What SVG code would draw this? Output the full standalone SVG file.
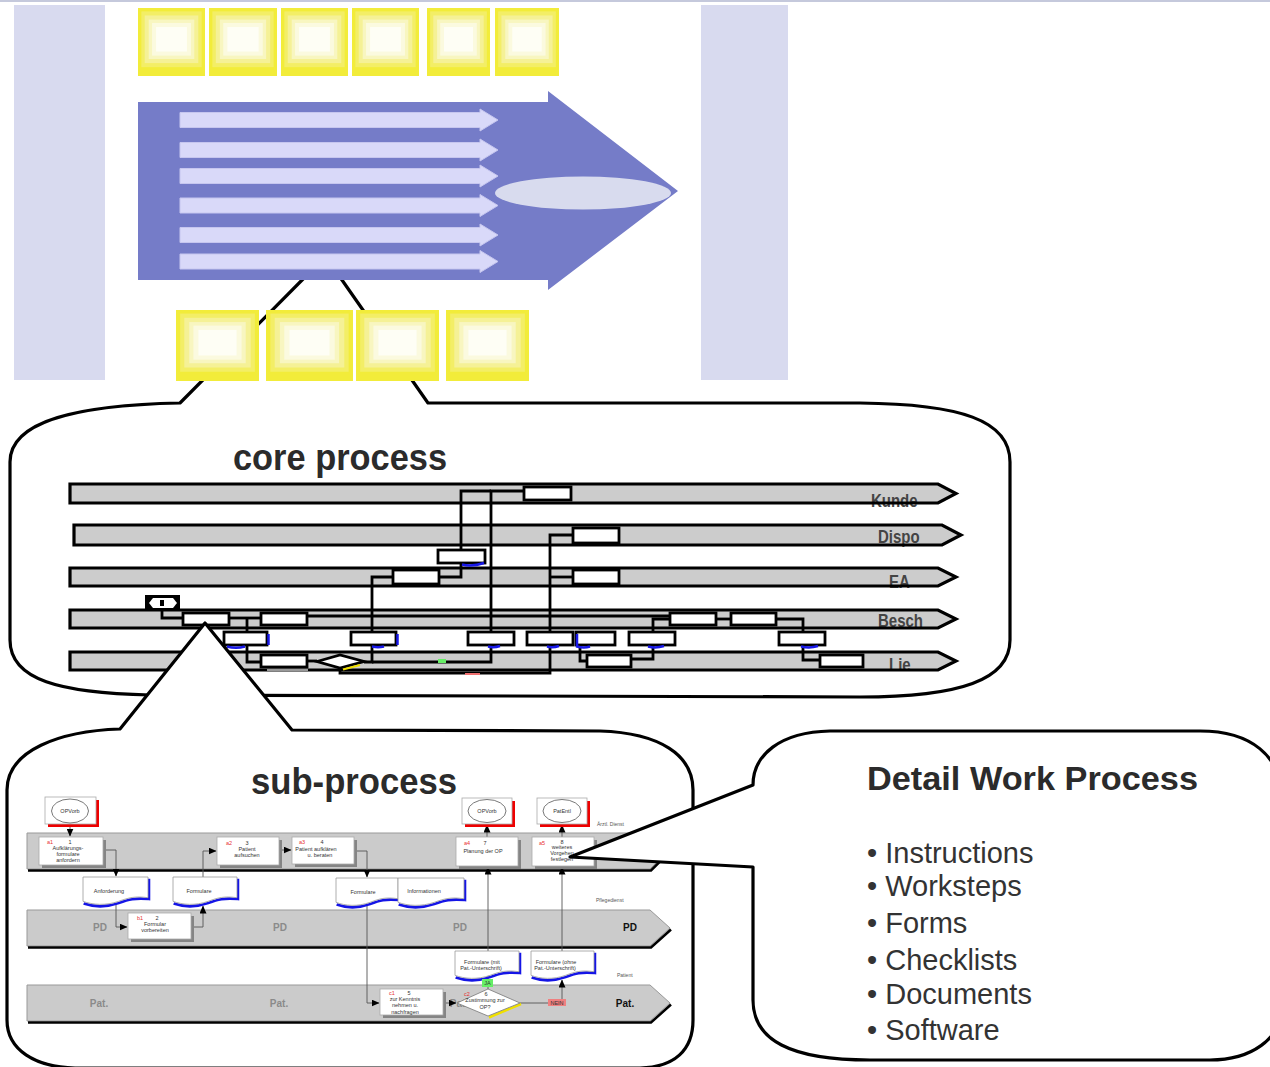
<svg xmlns="http://www.w3.org/2000/svg" xmlns:xlink="http://www.w3.org/1999/xlink" width="1270" height="1067" viewBox="0 0 1270 1067">
<defs>
<style>
.lav{fill:#d8daef}
.bub{fill:#fff;stroke:#000;stroke-width:3.2;stroke-linejoin:round}
.la{fill:#d9d9f9;stroke:#c6c6ef;stroke-width:1}
.cl{fill:#cccccc;stroke:none}
.cls{fill:none;stroke:#000;stroke-width:3.2;stroke-linejoin:miter}
.clab{font-family:"Liberation Sans",Arial,sans-serif;font-weight:bold;font-size:15px;fill:#444}
.cn{fill:#fff;stroke:#000;stroke-width:2.8}
.cc{fill:none;stroke:#000;stroke-width:2.8;stroke-linejoin:miter}
.blue{fill:none;stroke:#1818e8;stroke-width:2.5}
.title{font-family:"Liberation Sans",Arial,sans-serif;font-weight:bold;fill:#2b2b2b}
.sl{fill:#cbcbcb;stroke:#999;stroke-width:1}
.ssh{fill:none;stroke:#000;stroke-width:2.5}
.sb{fill:#fff;stroke:#aaa;stroke-width:0.8}
.shd{fill:#858585}
.st{font-family:"Liberation Sans",Arial,sans-serif;font-size:5.5px;fill:#333;text-anchor:middle}
.sid{fill:#e83030}
.sc{fill:none;stroke:#555;stroke-width:0.9}
.lpd{font-family:"Liberation Sans",Arial,sans-serif;font-weight:bold;font-size:10px;fill:#8a8a8a;text-anchor:middle}
.lpdk{fill:#111}
.small{font-family:"Liberation Sans",Arial,sans-serif;font-size:5px;fill:#555}
.bul{font-family:"Liberation Sans",Arial,sans-serif;font-size:29px;fill:#333}
.docO{fill:#fff;stroke:#999;stroke-width:0.8}
.docB{fill:none;stroke:#1515e6;stroke-width:2.6}
</style>
<symbol id="yb" viewBox="0 0 100 100" preserveAspectRatio="none">
<rect width="100" height="100" fill="#f2ec3a"/>
<rect x="5" y="5" width="90" height="82" fill="#f3ee66"/>
<rect x="10" y="11" width="80" height="70" fill="#f5f196"/>
<rect x="16" y="17" width="68" height="58" fill="#f8f6c0"/>
<rect x="21" y="22" width="58" height="48" fill="#fbfadf"/>
<rect x="27" y="28" width="46" height="36" fill="#fefef5"/>
</symbol>
<path id="docOut" d="M0,0 H100 V23 C80,21 70,23 55,27 C35,32 15,31 0,27 Z" vector-effect="non-scaling-stroke"/>
<path id="docSh" d="M101.5,2 V24.5 C80,23 70,25 55,29 C35,34 15,33 1,29.5" vector-effect="non-scaling-stroke"/>
<marker id="ah" markerWidth="8" markerHeight="7" refX="7.5" refY="3.5" orient="auto" markerUnits="userSpaceOnUse">
<path d="M0,0 L8,3.5 L0,7 Z" fill="#000"/>
</marker>
</defs>

<rect x="0" y="0" width="1270" height="2" fill="#c5c9dc"/>
<rect class="lav" x="14" y="5" width="91" height="375"/>
<rect class="lav" x="701" y="5" width="87" height="375"/>

<g id="core-bubble">
<path class="bub" d="M180,403 L312,270 L335,270 L428,403 L860,403 C960,404 1010,420 1010,462 L1010,640 C1010,680 960,697 860,697 L150,695 C60,693 10,680 10,640 L10,462 C10,420 80,405 180,403 Z"/>
</g>

<g id="value-chain">
<polygon points="138,102 548,102 548,91 678,191 548,290 548,280 138,280" fill="#757cc8"/>
<polygon class="la" points="180,112.5 480,112.5 480,109 498,120 480,131 480,127.5 180,127.5"/>
<polygon class="la" points="180,142.5 480,142.5 480,139 498,150 480,161 480,157.5 180,157.5"/>
<polygon class="la" points="180,168.5 480,168.5 480,165 498,176 480,187 480,183.5 180,183.5"/>
<polygon class="la" points="180,198 480,198 480,194.5 498,205.5 480,216.5 480,213 180,213"/>
<polygon class="la" points="180,227.5 480,227.5 480,224 498,235 480,246 480,242.5 180,242.5"/>
<polygon class="la" points="180,254 480,254 480,250.5 498,261.5 480,272.5 480,269 180,269"/>
<ellipse cx="583" cy="193" rx="88" ry="16.5" fill="#d8dbee"/>
</g>
<g id="top-boxes">
<use xlink:href="#yb" x="138" y="8" width="67" height="68"/>
<use xlink:href="#yb" x="209" y="8" width="68" height="68"/>
<use xlink:href="#yb" x="281" y="8" width="67" height="68"/>
<use xlink:href="#yb" x="352" y="8" width="67" height="68"/>
<use xlink:href="#yb" x="427" y="8" width="63" height="68"/>
<use xlink:href="#yb" x="495" y="8" width="64" height="68"/>
</g>
<g id="bottom-boxes">
<use xlink:href="#yb" x="176" y="310" width="83" height="71"/>
<use xlink:href="#yb" x="266" y="310" width="87" height="71"/>
<use xlink:href="#yb" x="356" y="310" width="83" height="71"/>
<use xlink:href="#yb" x="446" y="310" width="83" height="71"/>
</g>

<text class="title" x="233" y="470" font-size="36" textLength="214" lengthAdjust="spacingAndGlyphs">core process</text>
<g id="core-lanes">
<polygon class="cl" points="70,484 938,484 956,493.5 938,503 70,503"/>
<polygon class="cl" points="74,525 942,525 961,535 942,545 74,545"/>
<polygon class="cl" points="70,568 938,568 956,577 938,586 70,586"/>
<polygon class="cl" points="70,610 938,610 956,619 938,628 70,628"/>
<polygon class="cl" points="70,652 938,652 956,661 938,670 70,670"/>
<g transform="translate(0,-100) scale(1,1.2)">
<text class="clab" x="871" y="505.5">Kunde</text>
</g>
<g transform="translate(0,-107.5) scale(1,1.2)">
<text class="clab" x="878" y="542">Dispo</text>
</g>
<g transform="translate(0,-116) scale(1,1.2)">
<text class="clab" x="889" y="586.5">EA</text>
</g>
<g transform="translate(0,-124) scale(1,1.2)">
<text class="clab" x="878" y="626">Besch</text>
</g>
<g transform="translate(0,-133) scale(1,1.2)">
<text class="clab" x="889" y="670">Lie</text>
</g>
<polygon class="cls" points="70,484 938,484 956,493.5 938,503 70,503"/>
<polygon class="cls" points="74,525 942,525 961,535 942,545 74,545"/>
<polygon class="cls" points="70,568 938,568 956,577 938,586 70,586"/>
<polygon class="cls" points="70,610 938,610 956,619 938,628 70,628"/>
<polygon class="cls" points="70,652 938,652 956,661 938,670 70,670"/>
</g>
<g id="core-connectors">
<path class="cc" d="M162,610 V618 H183"/>
<path class="cc" d="M229,618 H261"/>
<path class="cc" d="M247,618 V632"/>
<path class="cc" d="M247,645 V662 H261"/>
<path class="cc" d="M307,661 H317"/>
<path class="cc" d="M364,662 H372 V577 H393"/>
<path class="cc" d="M372,662 H491 V491 H524"/>
<path class="cc" d="M439,577 H461 V563"/>
<path class="cc" d="M461,550 V491 H491"/>
<path class="cc" d="M573,535 H550 V673 H340 V668"/>
<path class="cc" d="M573,577 H550"/>
<path class="cc" d="M307,616 H670"/>
<path class="cc" d="M580,645 V661 H587"/>
<path class="cc" d="M631,659 H653 V645"/>
<path class="cc" d="M653,632 V619 H670"/>
<path class="cc" d="M716,619 H731"/>
<path class="cc" d="M776,619 H803 V632"/>
<path class="cc" d="M803,645 V660 H820"/>
<rect x="438" y="659" width="8" height="4" fill="#66ee66"/>
<rect x="465" y="673" width="15" height="2" fill="#f07070"/>
</g>
<g id="core-nodes">
<g id="c-kunde"><rect class="cn" x="524" y="487" width="47" height="13"/></g>
<g id="c-dispo"><rect class="cn" x="573" y="528" width="46" height="15"/></g>
<g id="c-doc-de"><rect class="cn" x="438" y="550" width="47" height="13"/><path class="blue" d="M462,564.5 Q472,567 484,563"/></g>
<g id="c-ea1"><rect class="cn" x="393" y="570" width="46" height="14"/></g>
<g id="c-ea2"><rect class="cn" x="573" y="570" width="46" height="14"/></g>
<g id="c-start"><rect x="145" y="595" width="35" height="15" fill="#000"/><polygon points="149,603 153,598 173,598 177,603 173,608 153,608" fill="#fff"/><rect x="160" y="600" width="4" height="6" fill="#000"/></g>
<g id="c-b1"><rect class="cn" x="183" y="613" width="46" height="12"/></g>
<g id="c-b2"><rect class="cn" x="261" y="613" width="46" height="12"/></g>
<g id="c-b3"><rect class="cn" x="670" y="613" width="46" height="12"/></g>
<g id="c-b4"><rect class="cn" x="731" y="613" width="45" height="12"/></g>
<g id="c-d1"><rect class="cn" x="224" y="632" width="43" height="13"/><path class="blue" d="M268.5,634 V645 M227,646.5 Q236,649 245,646.5"/></g>
<g id="c-d2"><rect class="cn" x="351" y="632" width="45" height="13"/><path class="blue" d="M397.5,634 V645 M372,646.5 Q378,648 384,646.5"/></g>
<g id="c-d3"><rect class="cn" x="468" y="632" width="46" height="13"/><path class="blue" d="M488,646.5 Q494,648 500,646"/></g>
<g id="c-d4"><rect class="cn" x="527" y="632" width="46" height="13"/><path class="blue" d="M547,646.5 Q553,648 559,646"/></g>
<g id="c-d5"><rect class="cn" x="576" y="632" width="39" height="13"/><path class="blue" d="M577,634 V646.5 Q584,648.5 590,646.5"/></g>
<g id="c-d6"><rect class="cn" x="629" y="632" width="46" height="13"/><path class="blue" d="M648,646.5 Q656,648.5 664,646"/></g>
<g id="c-d7"><rect class="cn" x="779" y="632" width="46" height="13"/><path class="blue" d="M801,646.5 Q810,648.5 818,646"/></g>
<g id="c-l1"><rect class="cn" x="261" y="655" width="46" height="12"/><rect x="267" y="669" width="41" height="2" fill="#999"/></g>
<g id="c-dia"><polygon class="cn" points="317,661.5 340,655 364,661.5 340,668"/><path d="M343,669.5 L360,665" stroke="#f0e000" stroke-width="2"/></g>
<g id="c-l2"><rect class="cn" x="587" y="655" width="44" height="12"/></g>
<g id="c-l3"><rect class="cn" x="820" y="655" width="43" height="12"/></g>
</g>

<g id="sub-bubble">
<path class="bub" d="M120,729 L205,623 L292,730 L600,731 C660,733 693,755 693,790 L693,1020 C693,1050 675,1067 640,1068 L75,1068 C35,1067 7,1050 7,1020 L7,790 C7,750 60,731 120,729 Z"/>
</g>
<text class="title" x="251" y="794" font-size="37" textLength="206" lengthAdjust="spacingAndGlyphs">sub-process</text>

<g id="sub-lanes">
<polygon class="sl" points="27,833 650,833 668,851 650,869 27,869"/>
<polyline class="ssh" points="28,870.5 651,870.5 669,852.5"/>
<polygon class="sl" points="27,910 650,910 670,928 650,946 27,946"/>
<polyline class="ssh" points="28,947.5 651,947.5 671,929.5"/>
<polygon class="sl" points="27,985 650,985 670,1003 650,1021 27,1021"/>
<polyline class="ssh" points="28,1022.5 651,1022.5 671,1004.5"/>
<text class="lpd" x="100" y="931">PD</text>
<text class="lpd" x="280" y="931">PD</text>
<text class="lpd" x="460" y="931">PD</text>
<text class="lpd lpdk" x="630" y="931">PD</text>
<text class="lpd" x="99" y="1007">Pat.</text>
<text class="lpd" x="279" y="1007">Pat.</text>
<text class="lpd" x="459" y="1007">Pat.</text>
<text class="lpd lpdk" x="625" y="1007">Pat.</text>
<text class="small" x="597" y="826">Ärztl. Dienst</text>
<text class="small" x="596" y="902">Pflegedienst</text>
<text class="small" x="617" y="977">Patient</text>
</g>

<g id="sub-connectors">
<path class="sc" d="M70,824 V836" marker-end="url(#ah)"/>
<path class="sc" d="M103,850 H116 V876" marker-end="url(#ah)"/>
<path class="sc" d="M116,904 V927 H127" marker-end="url(#ah)"/>
<path class="sc" d="M191,927 H203 V906" marker-end="url(#ah)"/>
<path class="sc" d="M203,877 V851 H216" marker-end="url(#ah)"/>
<path class="sc" d="M279,850 H291" marker-end="url(#ah)"/>
<path class="sc" d="M354,851 H367 V877" marker-end="url(#ah)"/>
<path class="sc" d="M367,905 V1003 H379" marker-end="url(#ah)"/>
<path class="sc" d="M443,1003 H456" marker-end="url(#ah)"/>
<path class="sc" d="M488,989 V867" marker-end="url(#ah)"/>
<path class="sc" d="M487,837 V825" marker-end="url(#ah)"/>
<path class="sc" d="M520,1003 H562 V980" marker-end="url(#ah)"/>
<path class="sc" d="M562,951 V867" marker-end="url(#ah)"/>
<path class="sc" d="M562,837 V825" marker-end="url(#ah)"/>
</g>

<g id="sub-nodes">
<g id="ev-opvorb1"><rect x="48" y="800" width="51" height="27" fill="#ee0000"/><rect class="sb" x="45" y="797" width="51" height="27"/><ellipse cx="70" cy="811" rx="18.5" ry="12" fill="none" stroke="#555" stroke-width="0.8"/><text class="st" x="70" y="813">OPVorb</text></g>
<g id="ev-opvorb2"><rect x="465" y="801" width="50" height="26" fill="#ee0000"/><rect class="sb" x="462" y="798" width="50" height="26"/><ellipse cx="487" cy="811" rx="19" ry="11.5" fill="none" stroke="#555" stroke-width="0.8"/><text class="st" x="487" y="813">OPVorb</text></g>
<g id="ev-patentl"><rect x="540" y="801" width="50" height="26" fill="#ee0000"/><rect class="sb" x="537" y="798" width="50" height="26"/><ellipse cx="562" cy="811" rx="19" ry="11.5" fill="none" stroke="#555" stroke-width="0.8"/><text class="st" x="562" y="813">PatEntl</text></g>

<g id="a1"><rect class="shd" x="42" y="840" width="64" height="28"/><rect class="sb" x="39" y="837" width="64" height="28"/>
<text class="st sid" x="50" y="844">a1</text><text class="st" x="70" y="844">1</text><text class="st" x="68" y="849.5">Aufklärungs-</text><text class="st" x="68" y="855.5">formulare</text><text class="st" x="68" y="861.5">anfordern</text></g>
<g id="a2"><rect class="shd" x="220" y="840" width="62" height="28"/><rect class="sb" x="217" y="837" width="62" height="28"/>
<text class="st sid" x="229" y="845">a2</text><text class="st" x="247" y="845">3</text><text class="st" x="247" y="851">Patient</text><text class="st" x="247" y="857">aufsuchen</text></g>
<g id="a3"><rect class="shd" x="295" y="840" width="62" height="27"/><rect class="sb" x="292" y="837" width="62" height="27"/>
<text class="st sid" x="302" y="844">a3</text><text class="st" x="322" y="844">4</text><text class="st" x="316" y="850.5">Patient aufklären</text><text class="st" x="320" y="856.5">u. beraten</text></g>
<g id="a4"><rect class="shd" x="459" y="840" width="62" height="29"/><rect class="sb" x="456" y="837" width="62" height="29"/>
<text class="st sid" x="467" y="845">a4</text><text class="st" x="485" y="845">7</text><text class="st" x="483" y="853">Planung  der OP</text></g>
<g id="a5"><rect class="shd" x="535" y="840" width="62" height="29"/><rect class="sb" x="532" y="837" width="62" height="29"/>
<text class="st sid" x="542" y="844.5">a5</text><text class="st" x="562" y="844">8</text><text class="st" x="562" y="849">weiteres</text><text class="st" x="562" y="855">Vorgehen</text><text class="st" x="562" y="861">festlegen</text></g>
<g id="b1"><rect class="shd" x="131" y="916" width="63" height="26"/><rect class="sb" x="128" y="913" width="63" height="26"/>
<text class="st sid" x="140" y="920">b1</text><text class="st" x="157" y="920">2</text><text class="st" x="155" y="926">Formular</text><text class="st" x="155" y="932">vorbereiten</text></g>
<g id="c1"><rect class="shd" x="383" y="992" width="63" height="26"/><rect class="sb" x="380" y="989" width="63" height="26"/>
<text class="st sid" x="392" y="995">c1</text><text class="st" x="409" y="995">5</text><text class="st" x="405" y="1001">zur Kenntnis</text><text class="st" x="405" y="1007">nehmen u.</text><text class="st" x="405" y="1013.5">nachfragen</text></g>
<g id="c2"><path d="M521,1004 L489,1017.5" stroke="#f0e000" stroke-width="2.5"/><polygon points="457,1003 488,989 520,1003 488,1016" fill="#fff" stroke="#777" stroke-width="0.8"/>
<text class="st sid" x="467" y="996">c2</text><text class="st" x="486" y="996">6</text><text class="st" x="485" y="1002">Zustimmung  zur</text><text class="st" x="485" y="1008.5">OP?</text></g>

<g id="doc-anforderung"><g transform="translate(83,877) scale(0.65,0.9)"><use xlink:href="#docSh" class="docB"/><use xlink:href="#docOut" class="docO"/></g><text class="st" x="109" y="893">Anforderung</text></g>
<g id="doc-formulare1"><g transform="translate(173,877) scale(0.64,0.9)"><use xlink:href="#docSh" class="docB"/><use xlink:href="#docOut" class="docO"/></g><text class="st" x="199" y="893">Formulare</text></g>
<g id="doc-formulare2"><g transform="translate(336,878) scale(0.62,0.9)"><use xlink:href="#docSh" class="docB"/><use xlink:href="#docOut" class="docO"/></g><text class="st" x="363" y="894">Formulare</text></g>
<g id="doc-informationen"><g transform="translate(398,878) scale(0.66,0.9)"><use xlink:href="#docSh" class="docB"/><use xlink:href="#docOut" class="docO"/></g><text class="st" x="424" y="893">Informationen</text></g>
<g id="doc-formulare-mit"><g transform="translate(455,951) scale(0.64,0.9)"><use xlink:href="#docSh" class="docB"/><use xlink:href="#docOut" class="docO"/></g><text class="st" x="482" y="964">Formulare (mit</text><text class="st" x="481" y="970">Pat.-Unterschrift)</text></g>
<g id="doc-formulare-ohne"><g transform="translate(531,951) scale(0.63,0.9)"><use xlink:href="#docSh" class="docB"/><use xlink:href="#docOut" class="docO"/></g><text class="st" x="556" y="964">Formulare (ohne</text><text class="st" x="555" y="970">Pat.-Unterschrift)</text></g>

<g id="lbl-ja"><rect x="482" y="979" width="11" height="8" fill="#66ee66"/><text class="st" x="487.5" y="985" font-size="4.5">JA</text></g>
<g id="lbl-nein"><rect x="548" y="999" width="18" height="7" fill="#f08080"/><text class="st" x="557" y="1004.5" font-size="4.5">NEIN</text></g>
</g>

<g id="detail-bubble">
<path class="bub" d="M570,857 L753,785 C753,755 780,732 830,731 L1200,731 C1250,731 1282,755 1282,800 L1282,1005 C1282,1040 1250,1060 1210,1060 L870,1060 C790,1060 753,1040 753,1000 L753,867 Z"/>
<text class="title" x="867" y="790" font-size="33" textLength="331" lengthAdjust="spacingAndGlyphs">Detail Work Process</text>
<text class="bul" x="867" y="863">• Instructions</text>
<text class="bul" x="867" y="896">• Worksteps</text>
<text class="bul" x="867" y="933">• Forms</text>
<text class="bul" x="867" y="970">• Checklists</text>
<text class="bul" x="867" y="1004">• Documents</text>
<text class="bul" x="867" y="1040">• Software</text>
</g>
</svg>
